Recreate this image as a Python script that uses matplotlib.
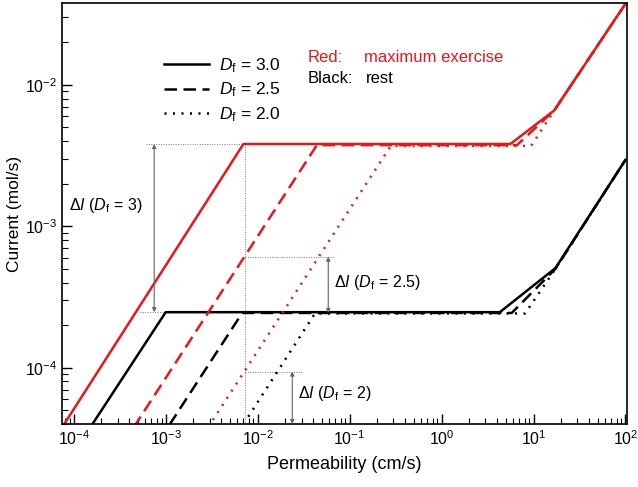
import numpy as np
import matplotlib
matplotlib.use("Agg")
import matplotlib.pyplot as plt
from matplotlib.lines import Line2D

plt.rcParams['font.family'] = ['Liberation Sans', 'DejaVu Sans']
plt.rcParams['mathtext.fontset'] = 'custom'
plt.rcParams['mathtext.rm'] = 'Liberation Sans'
plt.rcParams['mathtext.it'] = 'Liberation Sans:italic'
plt.rcParams['mathtext.bf'] = 'Liberation Sans:bold'

RED = '#e8161b'

# maximum exercise (red)
perm_red_30 = [7.5e-5, 7.0e-3, 5.6, 16.8, 100]
cur_red_30 = [3.8e-5, 3.82e-3, 3.82e-3, 6.6e-3, 3.75e-2]
perm_red_25 = [4.5e-4, 0.044, 6.6, 16.8, 100]
cur_red_25 = [3.8e-5, 3.75e-3, 3.75e-3, 6.6e-3, 3.75e-2]
perm_red_20 = [2.9e-3, 0.28, 9.4, 16.8, 100]
cur_red_20 = [3.8e-5, 3.7e-3, 3.7e-3, 6.6e-3, 3.75e-2]

# rest (black)
perm_blk_30 = [1.6e-4, 1.0e-3, 4.3, 17.3, 100]
cur_blk_30 = [4.0e-5, 2.47e-4, 2.47e-4, 5.06e-4, 2.95e-3]
perm_blk_25 = [1.1e-3, 6.8e-3, 5.8, 17.3, 100]
cur_blk_25 = [3.95e-5, 2.44e-4, 2.44e-4, 5.0e-4, 2.95e-3]
perm_blk_20 = [7.9e-3, 0.042, 8.1, 17.3, 100]
cur_blk_20 = [4.5e-5, 2.42e-4, 2.42e-4, 5.0e-4, 2.95e-3]

# delta-I annotations
mark_perm = 7.2e-3
dI_arrow_x = [7.5e-4, 0.0586, 0.0238]
dI_top = [3.82e-3, 6.1e-4, 9.4e-5]
dI_bottom = [2.47e-4, 2.44e-4, 4.0e-5]
dI_labels = [r'$\Delta I$ ($D_\mathrm{f}$ = 3)', r'$\Delta I$ ($D_\mathrm{f}$ = 2.5)',
             r'$\Delta I$ ($D_\mathrm{f}$ = 2)']
dI_label_pos = [(5.6e-4, 1.41e-3, 'right'), (0.068, 4.0e-4, 'left'), (0.0275, 6.6e-5, 'left')]

legend_labels = [r'$D_\mathrm{f}$ = 3.0', r'$D_\mathrm{f}$ = 2.5', r'$D_\mathrm{f}$ = 2.0']

xticks = [1e-4, 1e-3, 1e-2, 1e-1, 1e0, 1e1, 1e2]
yticks = [1e-4, 1e-3, 1e-2]

solid = '-'
dashed = (0, (5, 2.6))
dotted = (0, (0.8, 2.6))
lw = 1.8

fig = plt.figure(figsize=(6.38, 4.87), dpi=100)
ax = fig.add_axes([0.0976, 0.1294, 0.8846, 0.8639])

# guide lines
gkw = dict(color='#777777', lw=0.7, ls=(0, (1, 1.5)))
ax.plot([mark_perm, mark_perm], [dI_top[0], 4.0e-5], **gkw)
ax.plot([6.1e-4, perm_red_30[1]], [dI_top[0], dI_top[0]], **gkw)
ax.plot([5.3e-4, perm_blk_30[1]], [dI_bottom[0], dI_bottom[0]], **gkw)
ax.plot([mark_perm, 0.07], [dI_top[1], dI_top[1]], **gkw)
ax.plot([mark_perm, 0.0305], [dI_top[2], dI_top[2]], **gkw)

for x, top, bot in zip(dI_arrow_x, dI_top, dI_bottom):
    ax.annotate('', xy=(x, top), xytext=(x, bot),
                arrowprops=dict(arrowstyle='<|-|>', color='#666666', lw=0.8,
                                mutation_scale=6, shrinkA=0, shrinkB=0))
for lab, (x, y, ha) in zip(dI_labels, dI_label_pos):
    ax.text(x, y, lab, fontsize=11.5, ha=ha, va='center')

ax.plot(perm_blk_20, cur_blk_20, color='black', lw=lw, ls=dotted)
ax.plot(perm_blk_25, cur_blk_25, color='black', lw=lw, ls=dashed)
ax.plot(perm_blk_30, cur_blk_30, color='black', lw=lw, ls=solid)
ax.plot(perm_red_20, cur_red_20, color=RED, lw=lw, ls=dotted)
ax.plot(perm_red_25, cur_red_25, color=RED, lw=lw, ls=dashed)
ax.plot(perm_red_30, cur_red_30, color=RED, lw=lw, ls=solid)

ax.set_xscale('log')
ax.set_yscale('log')
ax.set_xticks(xticks)
ax.set_yticks(yticks)
ax.xaxis.set_minor_locator(matplotlib.ticker.LogLocator(base=10, subs=np.arange(2, 10), numticks=20))
ax.yaxis.set_minor_locator(matplotlib.ticker.LogLocator(base=10, subs=np.arange(2, 10), numticks=20))
ax.xaxis.set_minor_formatter(matplotlib.ticker.NullFormatter())
ax.yaxis.set_minor_formatter(matplotlib.ticker.NullFormatter())
ax.set_xlim(7.5e-5, 103)
ax.set_ylim(4.0e-5, 3.78e-2)

ax.tick_params(which='both', direction='in', top=False, right=False, labelsize=11.5)
ax.tick_params(which='major', length=7, width=1)
ax.tick_params(which='minor', length=4, width=0.8)
for s in ax.spines.values():
    s.set_linewidth(1.2)

ax.set_xlabel('Permeability (cm/s)', fontsize=13, labelpad=6)
ax.set_ylabel('Current (mol/s)', fontsize=12.5, labelpad=2)

handles = [Line2D([], [], color='black', lw=lw, ls=s) for s in (solid, dashed, dotted)]
ax.legend(handles, legend_labels, loc='upper left', bbox_to_anchor=(0.18, 0.875),
          frameon=False, fontsize=12.5, handlelength=2.6, handletextpad=0.6,
          labelspacing=0.35, borderpad=0, borderaxespad=0)

ax.text(0.435, 0.870, 'Red:', color=RED, fontsize=12, transform=ax.transAxes, va='center')
ax.text(0.5345, 0.870, 'maximum exercise', color=RED, fontsize=12, transform=ax.transAxes, va='center')
ax.text(0.435, 0.820, 'Black:', color='black', fontsize=12, transform=ax.transAxes, va='center')
ax.text(0.538, 0.820, 'rest', color='black', fontsize=12, transform=ax.transAxes, va='center')

fig.savefig('out.png', dpi=100)
